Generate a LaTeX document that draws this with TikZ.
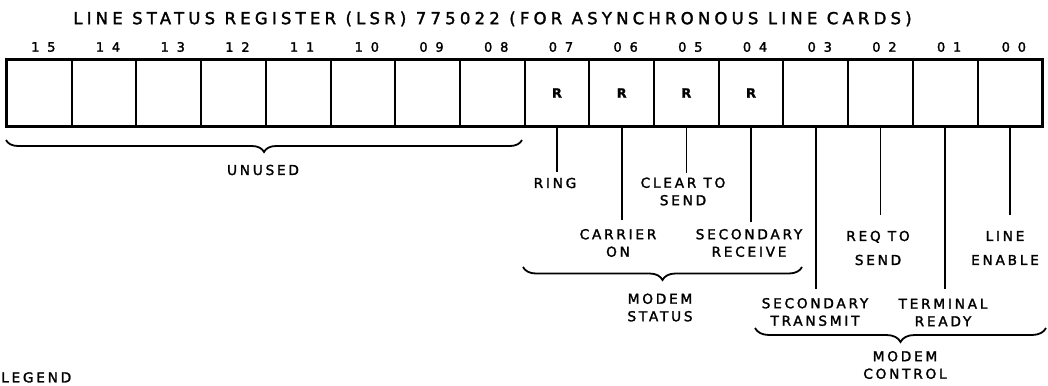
\documentclass[tikz,border=0pt]{standalone}
\usepackage{fontspec}
\setmainfont{DejaVu Sans}[LetterSpace=20, FakeBold=1.8]
\newfontfamily\numfont{DejaVu Sans}[LetterSpace=60, FakeBold=1.8]
\newfontfamily\titlefont{DejaVu Sans}[LetterSpace=25.5, FakeBold=1.8]
\newfontfamily\rfont{DejaVu Sans Bold}[FakeBold=0.8]
\usetikzlibrary{decorations.pathreplacing,calc}
\begin{document}
\begin{tikzpicture}[x=1pt,y=-1pt,
  cell/.style={draw, line width=2pt, minimum width=64.7pt, minimum height=66pt, anchor=north west, inner sep=0pt},
  bitnum/.style={font=\numfont\fontsize{13}{15}\selectfont, inner sep=0pt, xshift=4pt},
  rbit/.style={font=\rfont\fontsize{13}{15}\selectfont, inner sep=0pt},
  lbl/.style={font=\fontsize{13.7}{17.5}\selectfont, align=center, inner sep=0pt},
  lblwide/.style={font=\fontsize{13.7}{24}\selectfont, align=center, inner sep=0pt},
  lead/.style={line width=1.7pt},
  brc/.style={line width=1.8pt, decorate, decoration={brace, mirror, amplitude=#1}},
  title/.style={font=\titlefont\fontsize{16.5}{19}\selectfont, inner sep=0pt}]
\useasboundingbox (0,0) rectangle (1048,385);
% title
\node[title] (title) at (492.5,19) {LINE STATUS REGISTER (LSR) 775022 (FOR ASYNCHRONOUS LINE CARDS)};
% register cells
\foreach \i/\n in {0/15,1/14,2/13,3/12,4/11,5/10,6/09,7/08,8/07,9/06,10/05,11/04,12/03,13/02,14/01,15/00}{
  \pgfmathsetmacro\cx{6+\i*64.7}
  \node[cell] (b\n) at (\cx,59) {};
  \node[bitnum] (n\n) at ($(b\n.north)+(0,-12)$) {\n};
}
\draw[line width=2.4pt] (b15.north west) rectangle (b00.south east);
% R markers
\foreach \n in {07,06,05,04}{
  \node[rbit] (r\n) at (b\n.center) {R};
}
% leader line ends
\path (b07.south) ++(0,45) coordinate (e07);
\path (b06.south) ++(0,93) coordinate (e06);
\path (b05.south) ++(0,46) coordinate (e05);
\path (b04.south) ++(0,95) coordinate (e04);
\path (b03.south) ++(0,162) coordinate (e03);
\path (b02.south) ++(0,88) coordinate (e02);
\path (b01.south) ++(0,162) coordinate (e01);
\path (b00.south) ++(0,88) coordinate (e00);
\foreach \n in {07,06,05,04,03,02,01,00}{
  \draw[lead] (b\n.south) -- (e\n);
}
% labels
\node[lbl] (ring) at (555,183) {RING};
\node[lbl] (carrier) at (618,243) {CARRIER\\ON};
\node[lbl] (cts) at (683,191.5) {CLEAR TO\\SEND};
\node[lbl] (secrecv) at (749,243) {SECONDARY\\RECEIVE};
\node[lbl] (secxmit) at (815,312) {SECONDARY\\TRANSMIT};
\node[lblwide] (rts) at (878,248) {REQ TO\\SEND};
\node[lbl] (dtr) at (943,312.5) {TERMINAL\\READY};
\node[lblwide] (lena) at (1005,248) {LINE\\ENABLE};
% braces
\coordinate (u1) at (6,140);
\coordinate (u2) at (522,140);
\draw[brc=12pt] (u1) -- (u2);
\node[lbl] (unused) at (263,170) {UNUSED};
\coordinate (s1) at (523,267);
\coordinate (s2) at (802,267);
\draw[brc=13pt] (s1) -- (s2);
\node[lbl] (mstat) at (660,307.5) {MODEM\\STATUS};
\coordinate (c1) at (755,328);
\coordinate (c2) at (1046,328);
\draw[brc=14pt] (c1) -- (c2);
\node[lbl] (mctl) at (905,365) {MODEM\\CONTROL};
% legend
\node[lbl, anchor=north west] (legend) at (1,372) {LEGEND};
\end{tikzpicture}
\end{document}
